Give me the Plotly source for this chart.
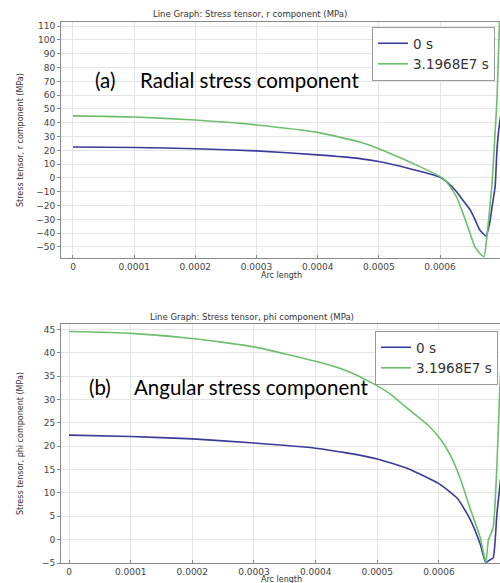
import plotly.graph_objects as go

# ---------------- data ----------------
# (a) radial stress component, MPa
r_x_0s = [0, 0.0001, 0.0002, 0.0003, 0.0004, 0.000469, 0.000502, 0.000534, 0.000567, 0.0006,
          0.000611, 0.000627, 0.000637, 0.000649, 0.000657, 0.000665, 0.000675, 0.000681,
          0.000685, 0.00069, 0.000693, 0.000696, 0.0007]
r_y_0s = [22.4, 22.1, 21.2, 19.6, 16.7, 14.0, 11.8, 8.6, 4.8, 0.5,
          -2.9, -10, -16, -23, -30, -37.7, -42, -33,
          -21, -6.5, 20, 35, 48]
r_x_t = [0, 0.0001, 0.0002, 0.0003, 0.0004, 0.000469, 0.000502, 0.000534, 0.000567, 0.0006,
         0.000611, 0.000627, 0.000637, 0.000649, 0.000657, 0.000668, 0.000672, 0.000676,
         0.000685, 0.00069, 0.000693, 0.000697, 0.0007]
r_y_t = [45, 44.2, 42, 38.4, 33, 26, 20.8, 14.8, 8.2, 1.0,
         -2.9, -13.8, -25, -40, -50, -56, -57, -45,
         -4, 33, 56.5, 110, 140]

# (b) angular (phi) stress component, MPa
p_x_0s = [0, 0.0001, 0.0002, 0.0003, 0.0004, 0.00045, 0.0005, 0.00055, 0.0006, 0.00063,
          0.00065, 0.000667, 0.000676, 0.000683, 0.000688, 0.000694, 0.000698, 0.0007]
p_y_0s = [22.4, 22.1, 21.6, 20.7, 19.6, 18.6, 17.3, 15.2, 12.0, 8.8,
          4.5, -1.0, -4.9, -4.3, -3.9, 5.6, 10.5, 13]
p_x_t = [0, 0.0001, 0.0002, 0.0003, 0.0004, 0.00045, 0.000488, 0.00052, 0.000553, 0.000585,
         0.000602, 0.000618, 0.000634, 0.00065, 0.000667, 0.000676, 0.00068, 0.000688,
         0.000694, 0.000698, 0.0007]
p_y_t = [44.6, 44.2, 43.1, 41.3, 38.2, 36.2, 33.8, 31.3, 27.7, 24.2,
         21.6, 18.2, 13.3, 6.9, 0.4, -4.9, -0.2, 2.6,
         16, 30, 36]

series_names = ["0 s", "3.1968E7 s"]
r_ticks = list(range(-50, 111, 10))
p_ticks = list(range(-5, 46, 5))
x_ticks = [0, 0.0001, 0.0002, 0.0003, 0.0004, 0.0005, 0.0006]
x_ticklabels = ["0", "0.0001", "0.0002", "0.0003", "0.0004", "0.0005", "0.0006"]

BLUE = "#3b3b9a"
GREEN = "#6cbf6c"
FONT = "DejaVu Sans"
W, H = 500, 583
ML, MR, MT, MB = 61, 0, 22, 20
PW = W - ML - MR
PH = H - MT - MB


def px(xp):
    return (xp - ML) / PW


def py(yp):
    return (H - MB - yp) / PH


def line(color):
    return dict(color=color, width=1.6, shape="spline", smoothing=0.5)


fig = go.Figure()
fig.add_trace(go.Scatter(x=r_x_0s, y=r_y_0s, mode="lines", name=series_names[0],
                         line=line(BLUE), xaxis="x", yaxis="y", legend="legend"))
fig.add_trace(go.Scatter(x=r_x_t, y=r_y_t, mode="lines", name=series_names[1],
                         line=line(GREEN), xaxis="x", yaxis="y", legend="legend"))
fig.add_trace(go.Scatter(x=p_x_0s, y=p_y_0s, mode="lines", name=series_names[0],
                         line=line(BLUE), xaxis="x2", yaxis="y2", legend="legend2"))
fig.add_trace(go.Scatter(x=p_x_t, y=p_y_t, mode="lines", name=series_names[1],
                         line=line(GREEN), xaxis="x2", yaxis="y2", legend="legend2"))

axis_common = dict(showgrid=True, gridcolor="#e4e4e4", gridwidth=1, zeroline=False,
                   showline=True, linecolor="#8a8a8a", linewidth=1,
                   tickfont=dict(family=FONT, size=9, color="#444"), ticklen=3,
                   tickcolor="#8a8a8a")

legend_common = dict(xanchor="right", yanchor="top", bgcolor="white",
                     bordercolor="#9a9a9a", borderwidth=1,
                     font=dict(family=FONT, size=13.5, color="#333"), itemwidth=30,
                     tracegroupgap=0)

fig.update_layout(
    width=W, height=H,
    margin=dict(l=ML, r=MR, t=MT, b=MB),
    paper_bgcolor="white", plot_bgcolor="white",
    xaxis=dict(domain=[0, 1], range=[-0.0000196, 0.000698], tickvals=x_ticks,
               ticktext=x_ticklabels, ticks="inside", mirror=True, anchor="y", **axis_common),
    yaxis=dict(domain=[py(258), 1], range=[-58, 113], tickvals=r_ticks,
               ticks="outside", anchor="x", **axis_common),
    xaxis2=dict(domain=[0, 1], range=[-0.000013, 0.000699], tickvals=x_ticks,
                ticktext=x_ticklabels, ticks="inside", mirror=True, anchor="y2", **axis_common),
    yaxis2=dict(domain=[0, py(324)], range=[-5, 46.2], tickvals=p_ticks,
                ticks="outside", anchor="x2", **axis_common),
    legend=dict(x=px(495), y=py(27), **legend_common),
    legend2=dict(x=px(498), y=py(331), **legend_common),
    showlegend=True,
)

ann = []
small = dict(family=FONT, size=8.5, color="#333")
lab = dict(family=FONT, size=8, color="#333")
ann.append(dict(text="Line Graph: Stress tensor, r component (MPa)", x=px(250), y=py(14),
                xref="paper", yref="paper", showarrow=False, font=small,
                xanchor="center", yanchor="middle"))
ann.append(dict(text="Line Graph: Stress tensor, phi component (MPa)", x=px(252), y=py(317),
                xref="paper", yref="paper", showarrow=False, font=small,
                xanchor="center", yanchor="middle"))
ann.append(dict(text="Stress tensor, r component (MPa)", x=px(20), y=py(140), textangle=-90,
                xref="paper", yref="paper", showarrow=False, font=lab,
                xanchor="center", yanchor="middle"))
ann.append(dict(text="Stress tensor, phi component (MPa)", x=px(20), y=py(444), textangle=-90,
                xref="paper", yref="paper", showarrow=False, font=lab,
                xanchor="center", yanchor="middle"))
ann.append(dict(text="Arc length", x=px(281), y=py(275),
                xref="paper", yref="paper", showarrow=False, font=lab,
                xanchor="center", yanchor="middle"))
ann.append(dict(text="Arc length", x=px(281), y=py(579),
                xref="paper", yref="paper", showarrow=False, font=lab,
                xanchor="center", yanchor="middle"))
big = dict(family="Lato", size=20.5, color="black")
ann.append(dict(text="(a)", x=px(93), y=py(80), xref="paper", yref="paper", showarrow=False,
                font=big, xanchor="left", yanchor="middle"))
ann.append(dict(text="Radial stress component", x=px(138), y=py(80), xref="paper", yref="paper",
                showarrow=False, font=big, xanchor="left", yanchor="middle"))
ann.append(dict(text="(b)", x=px(87), y=py(387), xref="paper", yref="paper", showarrow=False,
                font=big, xanchor="left", yanchor="middle"))
ann.append(dict(text="Angular stress component", x=px(132), y=py(387), xref="paper", yref="paper",
                showarrow=False, font=big, xanchor="left", yanchor="middle"))
fig.update_layout(annotations=ann)

fig.write_html("out.html", config={"displayModeBar": False})
